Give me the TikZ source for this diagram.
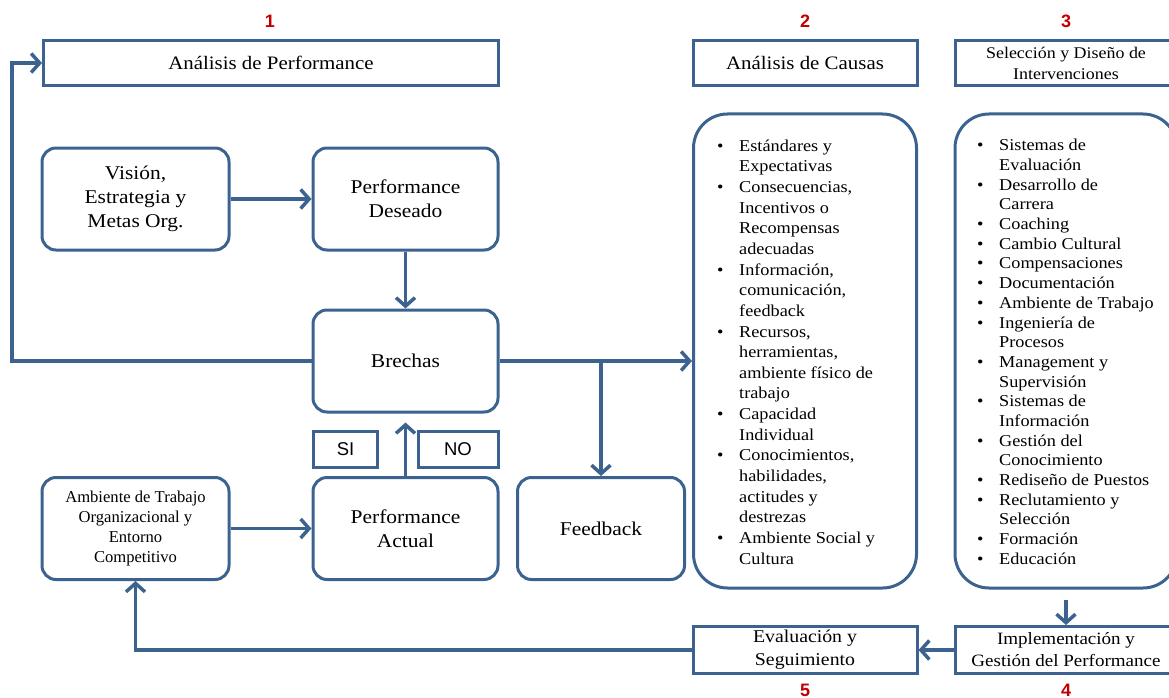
\documentclass[tikz,border=0pt]{standalone}
\usepackage{fontspec}
\setmainfont{Liberation Serif}[FakeStretch=1.1]
\newfontfamily\narrowserif{Liberation Serif}
\newfontfamily\arialfam{Liberation Sans}
\usetikzlibrary{arrows.meta}
\definecolor{edge}{RGB}{60,99,144}
\definecolor{numred}{RGB}{192,0,0}
% list lines: bullet line and continuation line
\newcommand\itemline[1]{\makebox[22pt][l]{\textbullet}#1}
\newcommand\moreline[1]{\hspace*{22pt}#1}
\begin{document}
\begin{tikzpicture}[x=1pt,y=-1pt,
  sq/.style={draw=edge,line width=3pt,fill=white,inner sep=0pt,align=center},
  rd/.style={sq,rounded corners=14pt},
  big/.style={sq,rounded corners=34pt},
  link/.style={draw=edge,line width=3.5pt,-{Straight Barb[length=8.5pt,width=19pt]}},
  num/.style={text=numred,font=\arialfam\bfseries\fontsize{18}{20}\selectfont},
  ft/.style={font=\fontsize{19.5}{24}\selectfont},
  fs/.style={font=\fontsize{17.3}{22}\selectfont}
]
\useasboundingbox (0,0) rectangle (1169,698);
\clip (0,0) rectangle (1169,698);

% step numbers
\node[num] (n1) at (270,21) {1};
\node[num] (n2) at (805,21) {2};
\node[num] (n3) at (1066,21) {3};
\node[num] (n4) at (1066,690) {4};
\node[num] (n5) at (805,690) {5};

% header boxes
\node[sq,font=\fontsize{19}{23}\selectfont,minimum width=455,minimum height=45] (ap) at (271,63) {Análisis de Performance};
\node[sq,font=\fontsize{19}{23}\selectfont,minimum width=224,minimum height=45] (ac) at (805,63) {Análisis de Causas};
\node[sq,font=\fontsize{16.3}{21}\selectfont,minimum width=222,minimum height=45] (sd) at (1066,63) {Selección y Diseño de\\Intervenciones};

% left-hand flow
\node[rd,ft,minimum width=187,minimum height=102] (vis) at (135.5,199) {Visión,\\Estrategia y\\Metas Org.};
\node[rd,ft,minimum width=185,minimum height=102] (des) at (405.5,199) {Performance\\Deseado};
\node[rd,ft,minimum width=185,minimum height=102] (bre) at (405.5,361) {Brechas};
\node[rd,font=\narrowserif\fontsize{16.6}{20}\selectfont,minimum width=187,minimum height=102] (amb) at (135.5,528.5) {Ambiente de Trabajo\\Organizacional y\\Entorno\\Competitivo};
\node[rd,ft,minimum width=185,minimum height=102] (act) at (405.5,528.5) {Performance\\Actual};
\node[rd,ft,minimum width=167,minimum height=102] (fb) at (601,528.5) {Feedback};
\node[sq,font=\arialfam\fontsize{18.5}{22}\selectfont,minimum width=64,minimum height=36] (si) at (345.5,449) {SI};
\node[sq,font=\arialfam\fontsize{18.5}{22}\selectfont,minimum width=80,minimum height=36] (no) at (458,449) {NO};

% cause and intervention lists
\node[big,minimum width=223,minimum height=474] (c2) at (805,351) {};
\node[big,minimum width=222,minimum height=474] (c3) at (1066,351) {};
\node[font=\fontsize{16.6}{20.65}\selectfont,anchor=north west,inner sep=0pt] (l2) at (717,136.5) {%
\begin{tabular}{@{}l@{}}
\itemline{Estándares y}\\
\moreline{Expectativas}\\
\itemline{Consecuencias,}\\
\moreline{Incentivos o}\\
\moreline{Recompensas}\\
\moreline{adecuadas}\\
\itemline{Información,}\\
\moreline{comunicación,}\\
\moreline{feedback}\\
\itemline{Recursos,}\\
\moreline{herramientas,}\\
\moreline{ambiente físico de}\\
\moreline{trabajo}\\
\itemline{Capacidad}\\
\moreline{Individual}\\
\itemline{Conocimientos,}\\
\moreline{habilidades,}\\
\moreline{actitudes y}\\
\moreline{destrezas}\\
\itemline{Ambiente Social y}\\
\moreline{Cultura}
\end{tabular}};
\node[font=\fontsize{16.6}{19.67}\selectfont,anchor=north west,inner sep=0pt] (l3) at (977,137) {%
\begin{tabular}{@{}l@{}}
\itemline{Sistemas de}\\
\moreline{Evaluación}\\
\itemline{Desarrollo de}\\
\moreline{Carrera}\\
\itemline{Coaching}\\
\itemline{Cambio Cultural}\\
\itemline{Compensaciones}\\
\itemline{Documentación}\\
\itemline{Ambiente de Trabajo}\\
\itemline{Ingeniería de}\\
\moreline{Procesos}\\
\itemline{Management y}\\
\moreline{Supervisión}\\
\itemline{Sistemas de}\\
\moreline{Información}\\
\itemline{Gestión del}\\
\moreline{Conocimiento}\\
\itemline{Rediseño de Puestos}\\
\itemline{Reclutamiento y}\\
\moreline{Selección}\\
\itemline{Formación}\\
\itemline{Educación}
\end{tabular}};

% bottom boxes
\node[sq,font=\fontsize{18}{23}\selectfont,minimum width=224,minimum height=47] (ev) at (805,650) {Evaluación y\\Seguimiento};
\node[sq,fs,minimum width=222,minimum height=47] (im) at (1066,650) {Implementación y\\Gestión del Performance};

% connectors
\coordinate (lc) at (12,0);
\draw[link] (vis.east) -- (des.west);
\draw[link] (des.south) -- (bre.north);
\draw[link] (bre.east) -- (bre.east -| c2.west);
\draw[link] (bre.east -| fb.north) -- (fb.north);
\draw[link] (bre.west) -- (bre.west -| lc) |- (ap.west);
\draw[link] (amb.east) -- (act.west);
\draw[link,shorten >=9pt] (act.north) -- (bre.south);
\draw[link,shorten <=10pt] (c3.south) -- (im.north);
\draw[link] (im.west) -- (ev.east);
\draw[link] (ev.west) -| (amb.south);
\end{tikzpicture}
\end{document}
